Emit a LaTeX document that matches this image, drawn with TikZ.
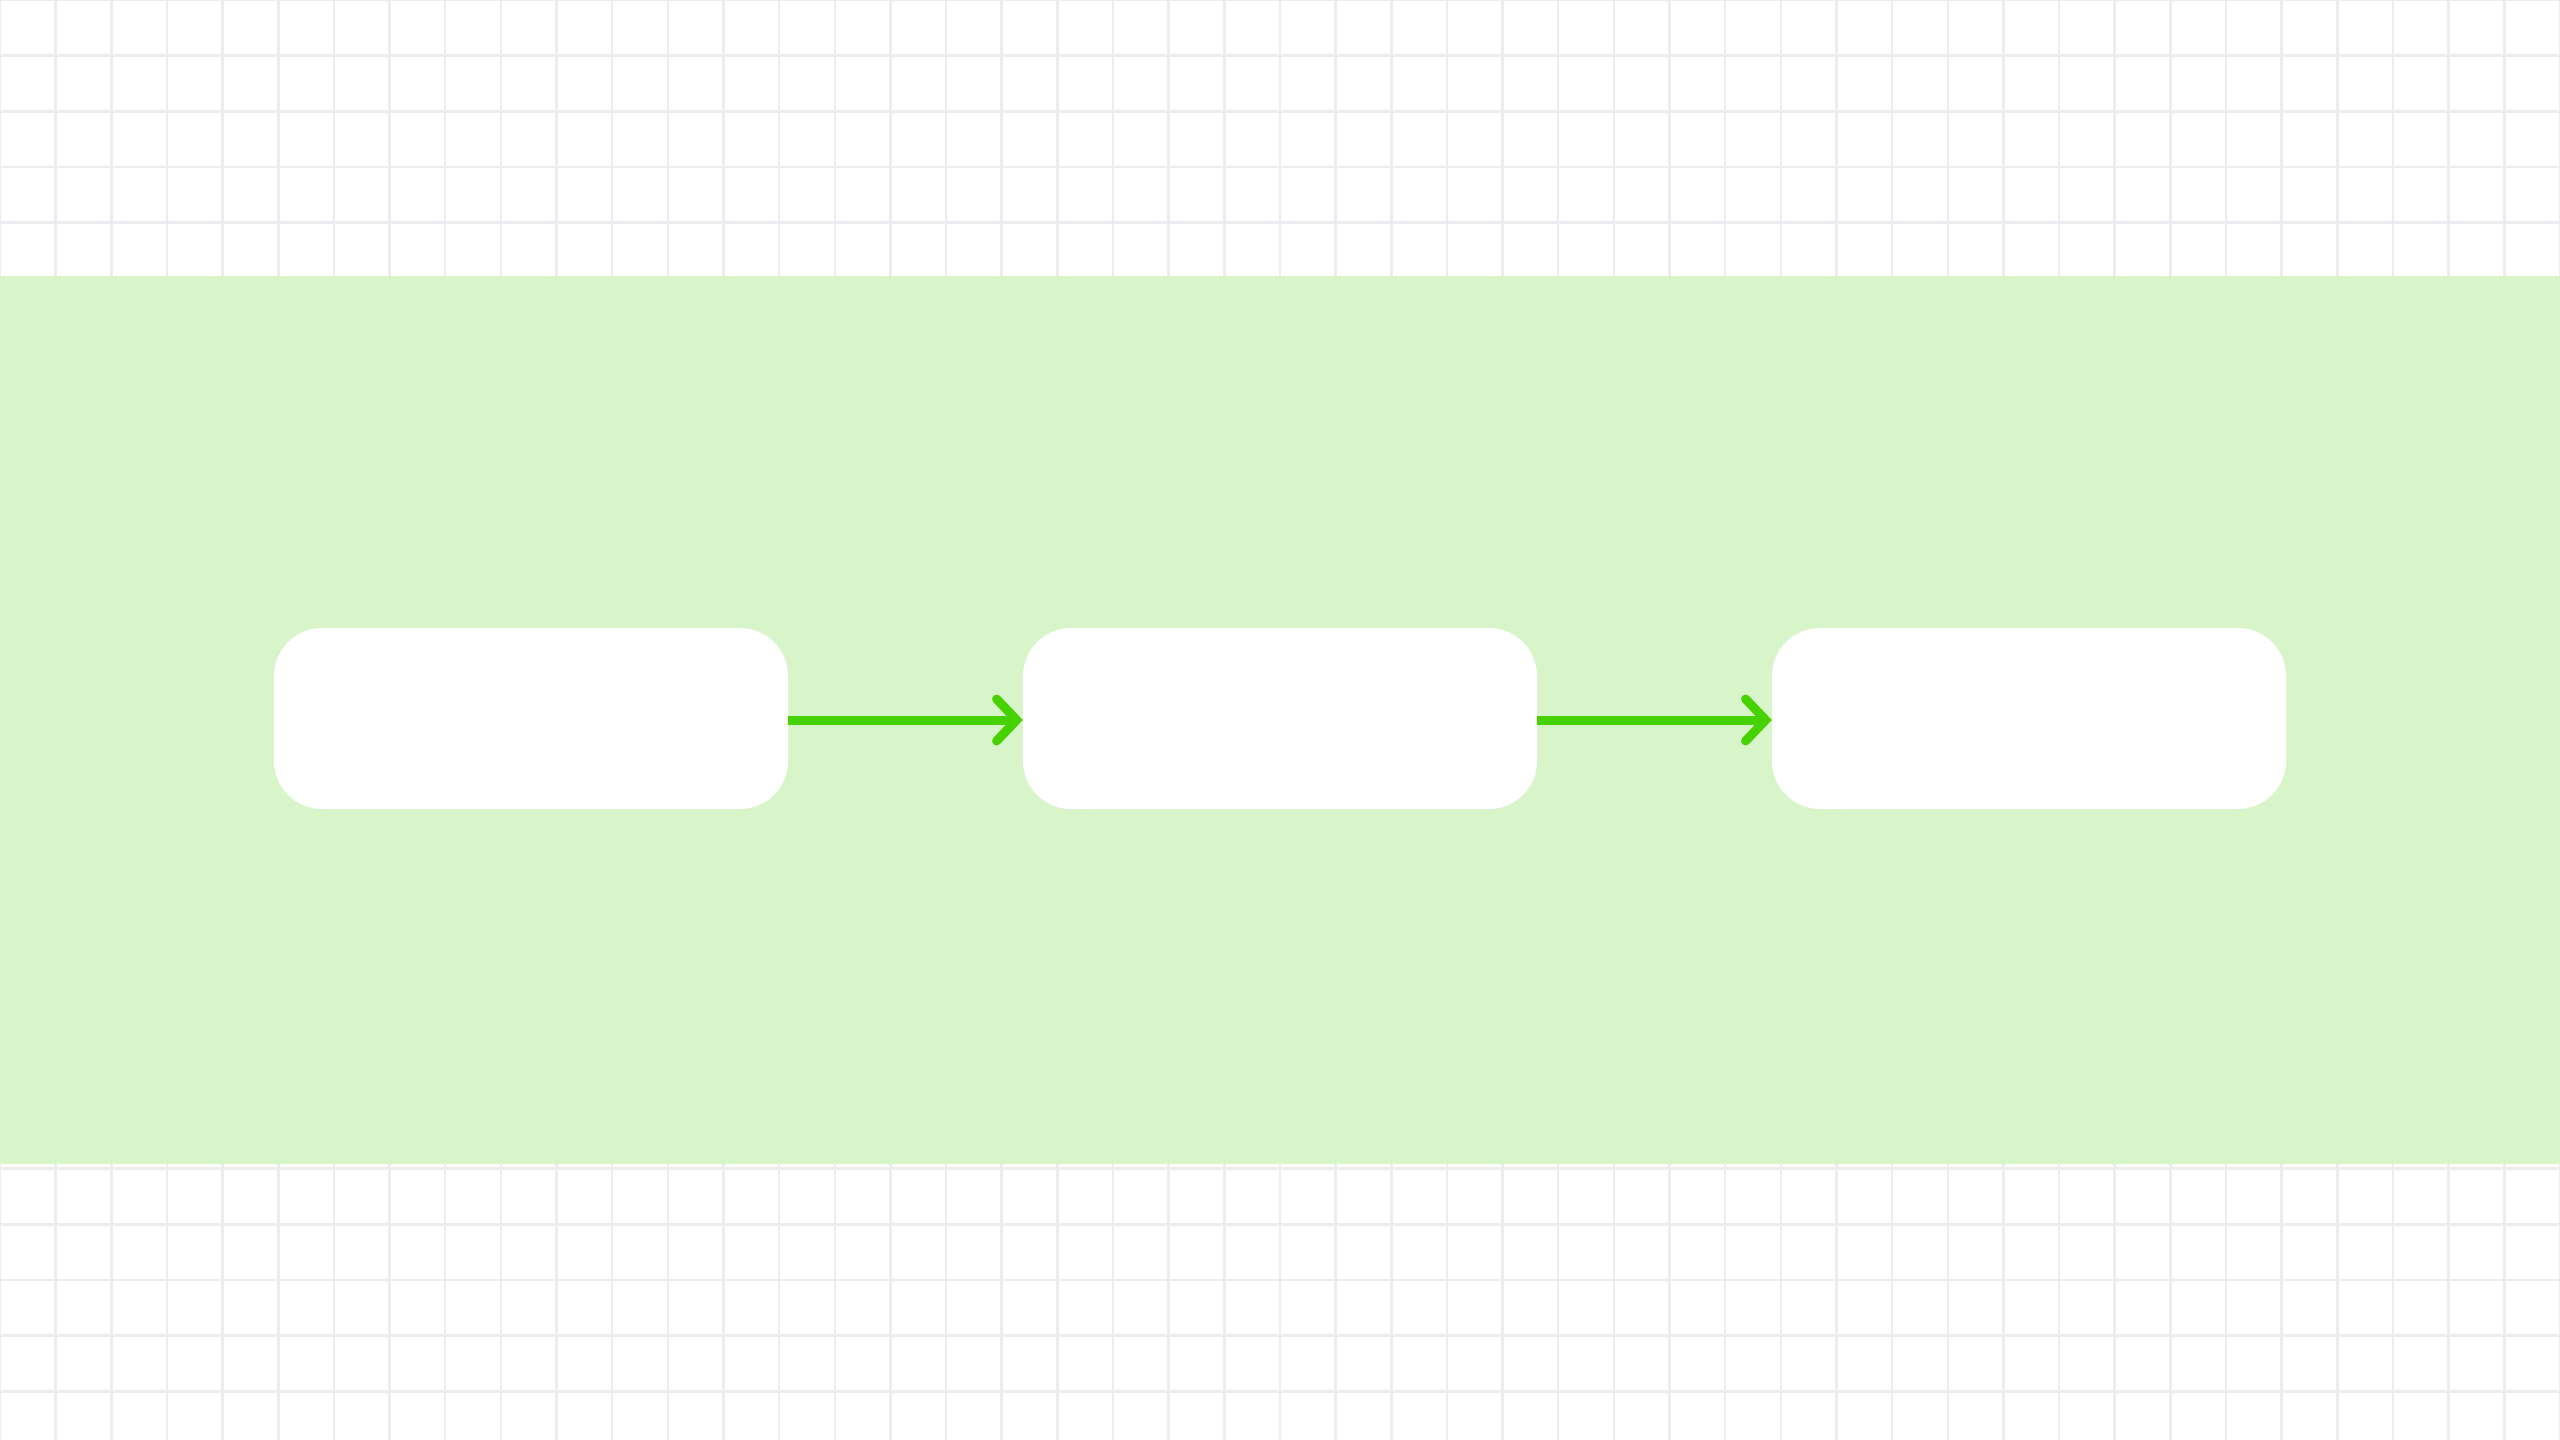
\documentclass[tikz,border=0pt]{standalone}
\usetikzlibrary{arrows.meta}
\definecolor{gridgray}{RGB}{236,237,241}
\definecolor{bandgreen}{RGB}{216,245,201}
\definecolor{arrowgreen}{RGB}{70,210,0}
\tikzset{
  gridline/.style={draw=gridgray,line width=2.5pt},
  stagebox/.style={fill=white,draw=none,rounded corners=48pt,minimum width=514pt,minimum height=181pt,inner sep=0pt},
  flowarrow/.style={draw=arrowgreen,line width=9pt,-{Straight Barb[length=20pt,width=42pt,line join=miter,line cap=round]}}
}
\begin{document}
\begin{tikzpicture}[x=1pt,y=-1pt]
\useasboundingbox (0,0) rectangle (2560,1440);
\fill[white] (0,0) rectangle (2560,1440);
% grid
\foreach \k in {0,...,46} {
  \draw[gridline] ({\k*55.65},0) -- ({\k*55.65},1440);
}
\foreach \k in {0,...,26} {
  \draw[gridline] (0,{\k*55.65}) -- (2560,{\k*55.65});
}
% band
\fill[bandgreen] (0,276) rectangle (2560,1164);
% boxes
\node[stagebox] (a) at (531,718.5) {};
\node[stagebox] (b) at (1280,718.5) {};
\node[stagebox] (c) at (2029,718.5) {};
% arrows
\draw[flowarrow] ([yshift=-1.5pt]a.east) -- ([yshift=-1.5pt]b.west);
\draw[flowarrow] ([yshift=-1.5pt]b.east) -- ([yshift=-1.5pt]c.west);
\end{tikzpicture}
\end{document}
